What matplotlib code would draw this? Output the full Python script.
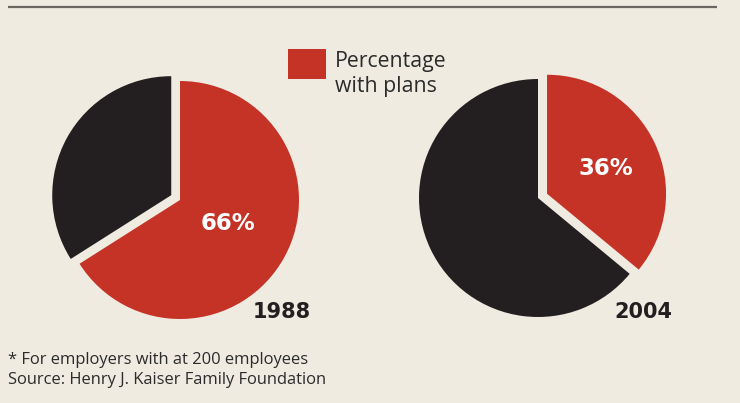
import numpy as np
from matplotlib import pyplot as plt
from matplotlib.patches import Rectangle

plt.rcParams['font.family'] = ['Open Sans', 'DejaVu Sans']

# Share of employers offering retiree health plans
years = ['1988', '2004']
with_plans = [66, 36]
without_plans = [34, 64]

legend_label = 'Percentage\nwith plans'
footnote = '* For employers with at 200 employees\nSource: Henry J. Kaiser Family Foundation'

BG = '#efebe1'
RED = '#c53327'
DARK = '#231f20'

W, H = 740, 403
fig = plt.figure(figsize=(W / 100, H / 100), dpi=100, facecolor=BG)
ax = fig.add_axes([0, 0, 1, 1])
ax.set_facecolor(BG)

# pie centres / radius in pixel units (y up)
centres = [(180, 203), (538, 205)]
radius = 119
gap = 10  # explode offset, data units
label_dist = [0.45, 0.54]
year_pos = [(282, 91), (643, 91)]

for i, year in enumerate(years):
    vals = [with_plans[i], without_plans[i]]
    # explode the smaller slice
    explode = [gap, 0] if vals[0] < vals[1] else [0, gap]
    wedges, _ = ax.pie(vals, colors=[RED, DARK], startangle=90, counterclock=False,
                       explode=explode, center=centres[i], radius=radius, frame=True,
                       wedgeprops=dict(linewidth=0))
    w = wedges[0]
    # pull the label a little toward horizontal
    mid = np.deg2rad((w.theta1 + w.theta2) / 2) * 0.9
    d = label_dist[i] * radius
    ax.text(w.center[0] + d * np.cos(mid), w.center[1] + d * np.sin(mid),
            f'{with_plans[i]}%', color='white', fontsize=16.5, fontweight='bold',
            family='DejaVu Sans', ha='center', va='center')
    ax.text(year_pos[i][0], year_pos[i][1], year, color=DARK, fontsize=15,
            fontweight='bold', family='DejaVu Sans', ha='center', va='center')

# legend
ax.add_patch(Rectangle((288, H - 79), 38, 30, facecolor=RED, linewidth=0))
ax.text(335, H - 51, legend_label, fontsize=15.3, color='#2b2b2b', ha='left', va='top',
        linespacing=1.25)

# footnote
ax.text(8, H - 352, footnote, fontsize=11.9, color='#2b2b2b', ha='left', va='top',
        linespacing=1.3)

# rule at the top
ax.plot([8, 717], [H - 7, H - 7], color='#6b6760', linewidth=1.6, solid_capstyle='butt')

ax.set_xlim(0, W)
ax.set_ylim(0, H)
ax.set_aspect('equal')
ax.axis('off')

fig.savefig('out.png', dpi=100, facecolor=BG)
